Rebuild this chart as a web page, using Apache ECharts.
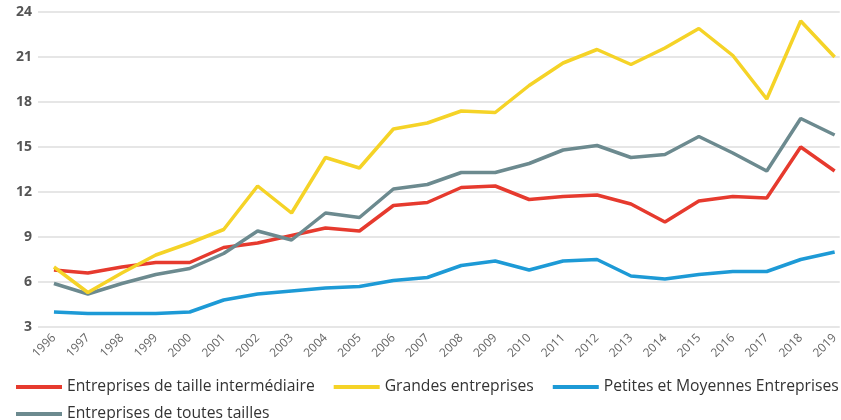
<!DOCTYPE html>
<html>
<head>
<meta charset="utf-8">
<script src="https://cdn.jsdelivr.net/npm/echarts@6/dist/echarts.min.js"></script>
<style>
  html, body { margin: 0; padding: 0; background: #fff; }
  #main { width: 841px; height: 420px; }
</style>
</head>
<body>
<div id="main"></div>
<script>
  var years = [1996, 1997, 1998, 1999, 2000, 2001, 2002, 2003, 2004, 2005, 2006, 2007,
               2008, 2009, 2010, 2011, 2012, 2013, 2014, 2015, 2016, 2017, 2018, 2019];
  var eti = [6.8, 6.6, 7.0, 7.3, 7.3, 8.3, 8.6, 9.1, 9.6, 9.4, 11.1, 11.3,
             12.3, 12.4, 11.5, 11.7, 11.8, 11.2, 10.0, 11.4, 11.7, 11.6, 15.0, 13.4];
  var grandes = [7.0, 5.3, 6.6, 7.8, 8.6, 9.5, 12.4, 10.6, 14.3, 13.6, 16.2, 16.6,
                 17.4, 17.3, 19.1, 20.6, 21.5, 20.5, 21.6, 22.9, 21.1, 18.2, 23.4, 21.0];
  var pme = [4.0, 3.9, 3.9, 3.9, 4.0, 4.8, 5.2, 5.4, 5.6, 5.7, 6.1, 6.3,
             7.1, 7.4, 6.8, 7.4, 7.5, 6.4, 6.2, 6.5, 6.7, 6.7, 7.5, 8.0];
  var toutes = [5.9, 5.2, 5.9, 6.5, 6.9, 7.9, 9.4, 8.8, 10.6, 10.3, 12.2, 12.5,
                13.3, 13.3, 13.9, 14.8, 15.1, 14.3, 14.5, 15.7, 14.6, 13.4, 16.9, 15.8];
  var names = ['Entreprises de taille intermédiaire', 'Grandes entreprises',
               'Petites et Moyennes Entreprises', 'Entreprises de toutes tailles'];
  var colors = ['#e63a2e', '#f5d327', '#1d9ad6', '#6c8a8f'];

  var chart = echarts.init(document.getElementById('main'));

  function pairs(arr) {
    return arr.map(function (v, i) { return [years[i], v]; });
  }
  function line(idx, arr) {
    return {
      name: names[idx],
      type: 'line',
      data: pairs(arr),
      symbol: 'none',
      lineStyle: { width: 3.5, color: colors[idx] },
      itemStyle: { color: colors[idx] },
      z: idx === 2 ? 3 : 2
    };
  }

  var legendText = { fontFamily: 'Open Sans', fontSize: 15.7, color: '#333' };

  var option = {
    animation: false,
    grid: { left: 38, right: 0, top: 12, bottom: 93 },
    legend: [{
      data: names.slice(0, 3),
      left: 16, top: 379, padding: 0,
      itemWidth: 46, itemHeight: 4, itemGap: 19,
      icon: 'rect',
      textStyle: legendText
    }, {
      data: names.slice(3),
      left: 16, top: 406, padding: 0,
      itemWidth: 46, itemHeight: 4,
      icon: 'rect',
      textStyle: legendText
    }],
    xAxis: {
      type: 'value',
      min: 1995.53,
      max: 2019.15,
      splitLine: { show: false },
      axisLine: { show: false },
      axisTick: { show: false },
      axisLabel: {
        customValues: years,
        formatter: function (v) { return String(v); },
        rotate: 45,
        margin: 9,
        fontFamily: 'Open Sans',
        fontSize: 12,
        color: '#666'
      }
    },
    yAxis: {
      type: 'value',
      min: 3, max: 24, interval: 3,
      axisLine: { show: false },
      axisTick: { show: false },
      splitLine: { lineStyle: { color: '#dedede', width: 1.5 } },
      axisLabel: {
        margin: 6,
        fontFamily: 'Open Sans',
        fontWeight: 'bold',
        fontSize: 14,
        color: '#555'
      }
    },
    series: [
      line(2, pme),
      line(0, eti),
      line(3, toutes),
      line(1, grandes)
    ]
  };

  option && chart.setOption(option);
</script>
</body>
</html>
